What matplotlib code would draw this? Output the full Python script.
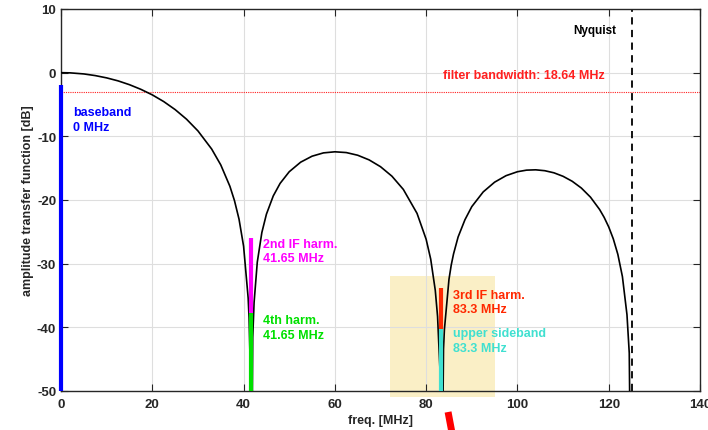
import matplotlib
matplotlib.use("Agg")
import matplotlib.pyplot as plt
from matplotlib.patches import Rectangle

plt.rcParams["font.family"] = ["Liberation Sans", "DejaVu Sans"]
plt.rcParams["font.weight"] = "bold"
plt.rcParams["axes.unicode_minus"] = False

# =============================================================================
# transfer function (freq in MHz, amplitude in dB)
# =============================================================================
freq = [0, 2, 5, 7.5, 10, 12.5, 15, 17.5, 20, 22.5, 25, 27.5, 30, 33, 35, 37,
        38, 39, 40, 41, 41.2, 41.5, 41.67, 42, 42.3, 43, 44, 45, 46.5, 48, 50,
        52.5, 55, 57.5, 60, 62.5, 65, 67.5, 70, 72.5, 75, 78, 80, 81, 82,
        82.5, 83, 83.33, 83.8, 84, 85, 85.5, 86, 87, 88.5, 90, 92.5, 95, 97.5,
        100, 102, 104, 106, 108, 110, 112, 114, 116, 118, 119, 120, 121, 122,
        123, 124, 124.5, 125]
amp_db = [0, -0.03, -0.20, -0.46, -0.82, -1.29, -1.89, -2.62, -3.49, -4.54,
          -5.80, -7.31, -9.15, -11.99, -14.49, -17.85, -20.09, -23.01, -27.26,
          -35.39, -38.53, -47.53, -80, -41.60, -36.09, -29.76, -25.11, -22.23,
          -19.36, -17.39, -15.56, -14.06, -13.12, -12.60, -12.43, -12.55,
          -12.97, -13.70, -14.77, -16.26, -18.34, -22.10, -26.18, -29.30,
          -34.20, -38.30, -46.29, -80, -43.42, -40.33, -32.46, -30.2, -28.47,
          -25.81, -23.1, -21.04, -18.73, -17.20, -16.18, -15.56, -15.31,
          -15.26, -15.40, -15.73, -16.28, -17.06, -18.12, -19.55, -21.49,
          -22.73, -24.23, -26.10, -28.54, -32.03, -38.02, -44.04, -80]

bw_level = -3.0
bw_label = "filter bandwidth: 18.64 MHz"
nyquist = 125

# markers: (freq, bottom dB, top dB, colour)
markers = [
    (0.0, -50, -2.0, "#0000ff"),
    (41.65, -37.7, -25.9, "#ff00ff"),
    (41.65, -50, -37.7, "#00e000"),
    (83.3, -40.3, -33.8, "#ff2800"),
    (83.3, -50, -40.3, "#40e0d0"),
]
labels = [
    (2.6, -7.4, "baseband\n0 MHz", "#0000ff"),
    (44.3, -28.0, "2nd IF harm.\n41.65 MHz", "#ff00ff"),
    (44.3, -40.0, "4th harm.\n41.65 MHz", "#00e000"),
    (85.8, -36.0, "3rd IF harm.\n83.3 MHz", "#ff2800"),
    (85.8, -42.1, "upper sideband\n83.3 MHz", "#40e0d0"),
]

fig = plt.figure(figsize=(7.08, 4.31), dpi=100)
ax = fig.add_axes([0.0862, 0.0905, 0.9025, 0.8863])

# highlighted region around 3rd harmonic
ax.add_patch(Rectangle((72, -51), 23, 19, facecolor="#faefc6", edgecolor="none",
                       clip_on=False, zorder=0))

ax.plot(freq, amp_db, color="k", lw=1.2, zorder=3)
ax.axhline(bw_level, color="#ff2020", ls=(0, (1, 1)), lw=0.8, zorder=2)
ax.axvline(nyquist, color="k", ls=(0, (4, 3)), lw=1.3, zorder=2)

for f, lo, hi, c in markers:
    ax.plot([f, f], [lo, hi], color=c, lw=3, solid_capstyle="butt", zorder=4,
            clip_on=False)

for x, y, s, c in labels:
    ax.text(x, y, s, color=c, fontsize=9, fontweight="bold", va="center",
            ha="left", linespacing=1.3)

ax.text(119.2, -0.3, bw_label, color="#ff2020", fontsize=9, fontweight="bold",
        ha="right", va="center")
ax.text(121.6, 6.7, "Nyquist", color="k", fontsize=8.5, fontweight="bold",
        ha="right", va="center")

# red pointer at bottom (clipped by the figure edge)
ax.plot([84.8, 86.3], [-53.3, -59], color="#ff0000", lw=5, clip_on=False,
        solid_capstyle="butt")

ax.set_xlim(0, 140)
ax.set_ylim(-50, 10)
ax.set_xticks(range(0, 141, 20))
ax.set_yticks(range(-50, 11, 10))
ax.grid(True, color="#dedede", lw=0.8)
ax.set_axisbelow(True)
ax.tick_params(direction="in", top=True, right=True, length=5, width=0.8,
               labelsize=9.5, colors="#262626")
ax.tick_params(axis="x", pad=5)
for lab in ax.get_xticklabels() + ax.get_yticklabels():
    lab.set_fontweight("bold")
for sp in ax.spines.values():
    sp.set_color("#262626")
    sp.set_linewidth(1.0)

ax.set_xlabel("freq. [MHz]", fontsize=9, fontweight="bold", color="#262626",
              labelpad=3)
ax.set_ylabel("amplitude transfer function [dB]", fontsize=9,
              fontweight="bold", color="#262626", labelpad=2)

fig.savefig("out.png", dpi=100)
